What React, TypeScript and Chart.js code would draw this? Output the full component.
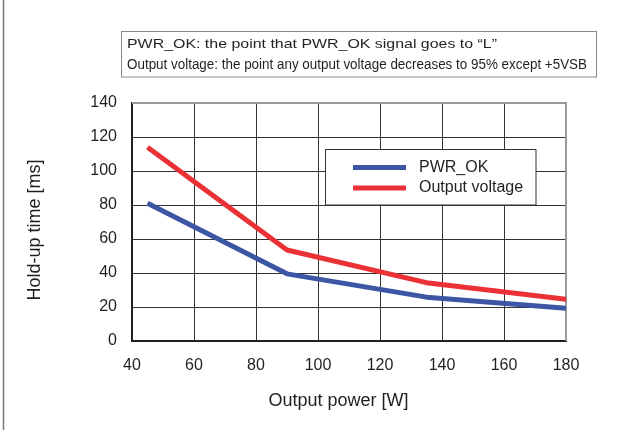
import React, { useEffect, useRef } from "react";
import { Chart, registerables } from "chart.js";

Chart.register(...registerables);

const powerW = [45, 90, 135, 180];
const pwrOk = [81, 39.5, 25.8, 19.2];
const outputVoltage = [114, 53.5, 34.3, 24.5];
const seriesNames = ["PWR_OK", "Output voltage"];
const seriesColors = ["#3c55a5", "#ec3136"];
const noteLines = [
  "PWR_OK: the point that PWR_OK signal goes to \u201CL\u201D",
  "Output voltage: the point any output voltage decreases to 95% except +5VSB",
];
const xTitle = "Output power [W]";
const yTitle = "Hold-up time [ms]";

const FONT = '"Liberation Sans", Arial, sans-serif';
const TEXT = "#231f20";

const decorPlugin = {
  id: "decor",
  beforeDatasetsDraw(chart: any) {
    const { ctx, chartArea: a } = chart;
    ctx.save();
    ctx.strokeStyle = "#9a9a9a";
    ctx.lineWidth = 2;
    ctx.beginPath();
    ctx.moveTo(a.left, a.top);
    ctx.lineTo(a.right, a.top);
    ctx.lineTo(a.right, a.bottom);
    ctx.stroke();
    ctx.restore();
  },
  afterDraw(chart: any) {
    const { ctx } = chart;
    ctx.save();
    // left page border
    ctx.strokeStyle = "#7a7a7a";
    ctx.lineWidth = 1.5;
    ctx.beginPath();
    ctx.moveTo(3.5, 0);
    ctx.lineTo(3.5, 430);
    ctx.stroke();

    // note box
    ctx.strokeStyle = "#8a8a8a";
    ctx.lineWidth = 1;
    ctx.strokeRect(121.5, 31.5, 475, 45.5);
    ctx.fillStyle = TEXT;
    ctx.textBaseline = "alphabetic";
    ctx.textAlign = "left";
    const fitText = (t: string, x: number, y: number, size: number, w: number) => {
      ctx.font = `${size}px ${FONT}`;
      const m = ctx.measureText(t).width;
      ctx.save();
      ctx.translate(x, y);
      ctx.scale(w / m, 1);
      ctx.fillText(t, 0, 0);
      ctx.restore();
    };
    fitText(noteLines[0], 127, 48, 13, 370);
    fitText(noteLines[1], 127, 68.5, 14, 460);

    // legend
    const lx = 325.5, ly = 149.5, lw = 210.5, lh = 55.5;
    ctx.fillStyle = "#ffffff";
    ctx.fillRect(lx, ly, lw, lh);
    ctx.strokeStyle = "#333333";
    ctx.lineWidth = 1;
    ctx.strokeRect(lx, ly, lw, lh);
    const rows = [167.5, 188];
    seriesNames.forEach((name, i) => {
      ctx.strokeStyle = seriesColors[i];
      ctx.lineWidth = 5;
      ctx.lineCap = "butt";
      ctx.beginPath();
      ctx.moveTo(353, rows[i]);
      ctx.lineTo(406, rows[i]);
      ctx.stroke();
      ctx.fillStyle = TEXT;
      ctx.font = `16px ${FONT}`;
      ctx.textBaseline = "middle";
      ctx.fillText(name, 419, rows[i]);
    });

    // axis titles
    ctx.fillStyle = TEXT;
    ctx.font = `18px ${FONT}`;
    ctx.textAlign = "center";
    ctx.textBaseline = "middle";
    ctx.fillText(xTitle, 338.5, 401);
    ctx.save();
    ctx.translate(35, 230);
    ctx.rotate(-Math.PI / 2);
    ctx.fillText(yTitle, 0, 0);
    ctx.restore();
    ctx.restore();
  },
};

export default function App() {
  const ref = useRef<HTMLCanvasElement | null>(null);
  useEffect(() => {
    if (!ref.current) return;
    const chart = new Chart(ref.current, {
      type: "line",
      data: {
        datasets: [
          {
            label: seriesNames[0],
            data: powerW.map((x, i) => ({ x, y: pwrOk[i] })),
            borderColor: seriesColors[0],
            backgroundColor: seriesColors[0],
            borderWidth: 5,
            pointRadius: 0,
            tension: 0,
            borderJoinStyle: "round",
          },
          {
            label: seriesNames[1],
            data: powerW.map((x, i) => ({ x, y: outputVoltage[i] })),
            borderColor: seriesColors[1],
            backgroundColor: seriesColors[1],
            borderWidth: 5,
            pointRadius: 0,
            tension: 0,
            borderJoinStyle: "round",
          },
        ],
      },
      options: {
        animation: false,
        responsive: false,
        devicePixelRatio: 1,
        layout: { padding: { top: 103, right: 77, left: 0, bottom: 0 } },
        plugins: { legend: { display: false }, tooltip: { enabled: false } },
        scales: {
          x: {
            type: "linear",
            min: 40,
            max: 180,
            afterFit: (s: any) => {
              s.height = 89;
            },
            ticks: {
              stepSize: 20,
              color: TEXT,
              font: { family: FONT, size: 16 },
              padding: 15,
              maxRotation: 0,
            },
            grid: { color: "#333333", lineWidth: 1, drawTicks: false },
            border: { color: "#231f20", width: 2 },
          },
          y: {
            type: "linear",
            min: 0,
            max: 140,
            afterFit: (s: any) => {
              s.width = 132;
            },
            ticks: {
              stepSize: 20,
              color: TEXT,
              font: { family: FONT, size: 16 },
              padding: 15,
            },
            grid: { color: "#333333", lineWidth: 1, drawTicks: false },
            border: { color: "#231f20", width: 2 },
          },
        },
      },
      plugins: [decorPlugin],
    });
    return () => chart.destroy();
  }, []);
  return (
    <div style={{ position: "absolute", left: 0, top: 0, width: 643, height: 430, background: "#fff" }}>
      <canvas ref={ref} width={643} height={430} style={{ width: 643, height: 430, display: "block" }} />
    </div>
  );
}
